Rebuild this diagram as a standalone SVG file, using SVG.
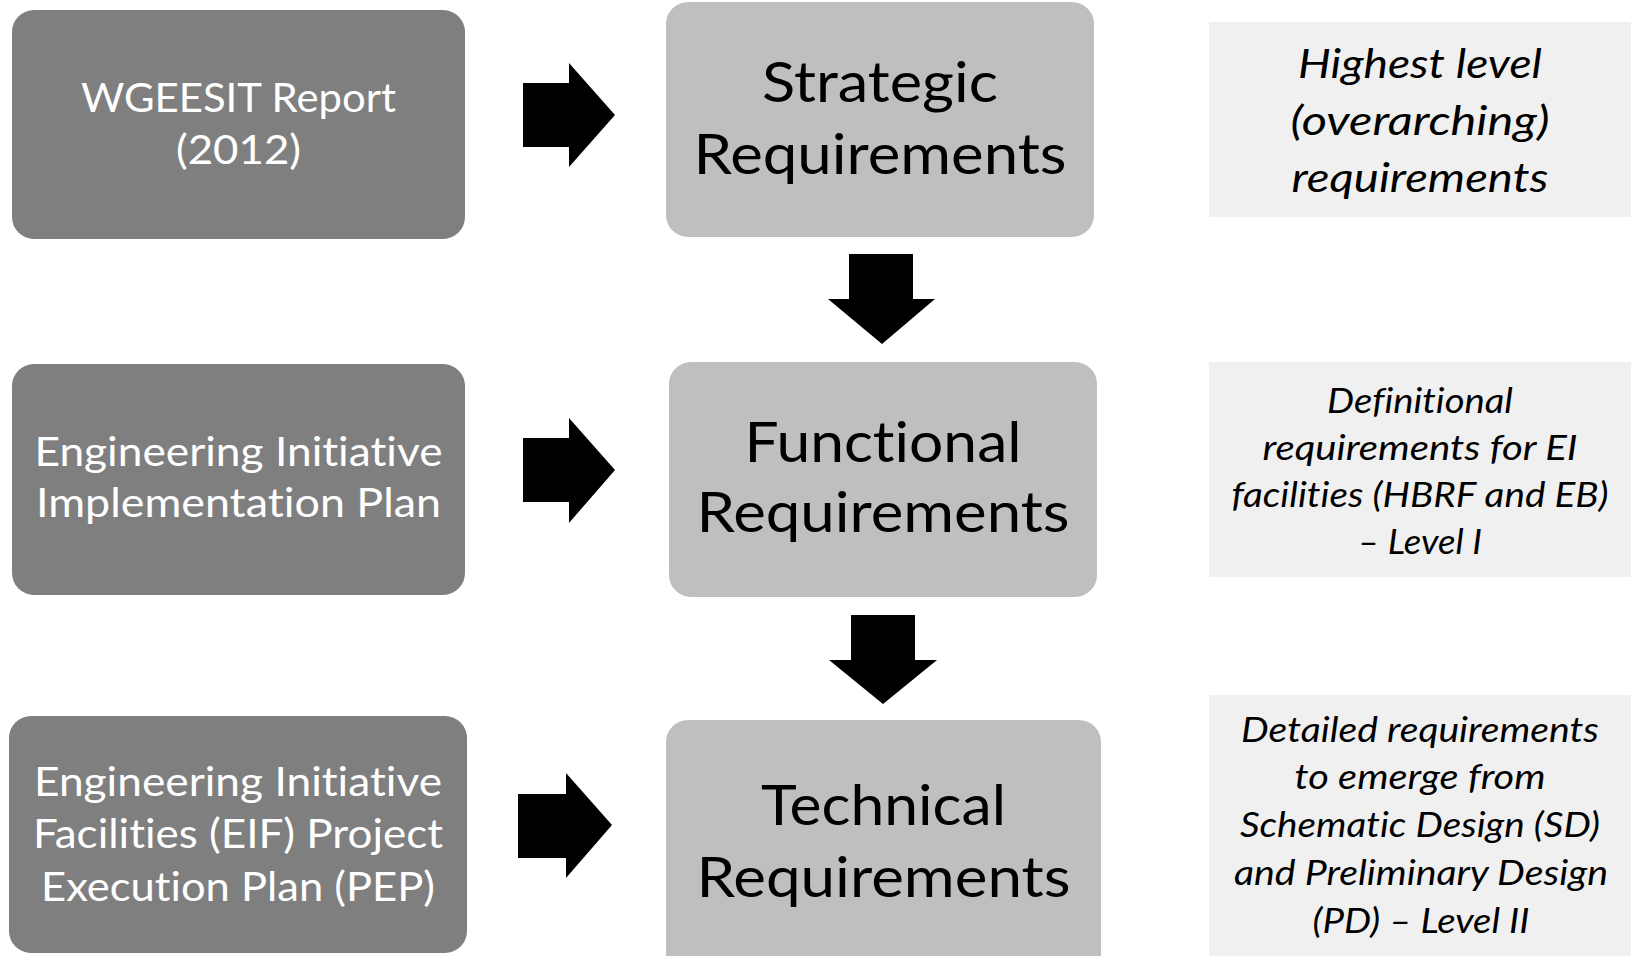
<svg xmlns="http://www.w3.org/2000/svg" width="1631" height="956" viewBox="0 0 1631 956">
<style>
.src{fill:#7f7f7f}
.req{fill:#bfbfbf}
.note{fill:#f0f0f0}
.arrow{fill:#000000}
text{font-family:Lato,"Open Sans","Noto Sans",sans-serif;text-anchor:middle;font-variant-ligatures:none}
.lt{fill:#ffffff;font-size:41px}
.mt{fill:#000000;font-size:57px}
.n1{fill:#000000;font-size:41px;font-style:italic}
.n2{fill:#000000;font-size:35px;font-style:italic}
</style>
<rect width="1631" height="956" fill="#ffffff"/>
<g id="connectors">
<polygon class="arrow" points="523,83 569,83 569,63 615,115 569,167 569,147 523,147"/>
<polygon class="arrow" points="523,438 569,438 569,418 615,470 569,523 569,502 523,502"/>
<polygon class="arrow" points="518,794 566,794 566,773 612,825 566,878 566,858 518,858"/>
<polygon class="arrow" points="849,254 913,254 913,299 935,299 882,344 828,299 849,299"/>
<polygon class="arrow" points="851,615 915,615 915,660 937,660 883,704 829,660 851,660"/>
</g>
<g id="wgeesit">
<rect class="src" x="12" y="10" width="453" height="229" rx="22"/>
<text class="lt" x="238.5" y="112" textLength="315" lengthAdjust="spacingAndGlyphs">WGEESIT Report</text>
<text class="lt" x="238.5" y="164" textLength="125" lengthAdjust="spacingAndGlyphs">(2012)</text>
</g>
<g id="eiip">
<rect class="src" x="12" y="364" width="453" height="231" rx="22"/>
<text class="lt" x="238.5" y="466" textLength="408" lengthAdjust="spacingAndGlyphs">Engineering Initiative</text>
<text class="lt" x="238.5" y="517" textLength="405" lengthAdjust="spacingAndGlyphs">Implementation Plan</text>
</g>
<g id="eifpep">
<rect class="src" x="9" y="716" width="458" height="237" rx="22"/>
<text class="lt" x="238" y="796" textLength="408" lengthAdjust="spacingAndGlyphs">Engineering Initiative</text>
<text class="lt" x="238" y="848" textLength="410" lengthAdjust="spacingAndGlyphs">Facilities (EIF) Project</text>
<text class="lt" x="238" y="901" textLength="394" lengthAdjust="spacingAndGlyphs">Execution Plan (PEP)</text>
</g>
<g id="strategic">
<rect class="req" x="666" y="2" width="428" height="235" rx="22"/>
<text class="mt" x="880" y="102" textLength="236" lengthAdjust="spacingAndGlyphs">Strategic</text>
<text class="mt" x="880" y="174" textLength="373" lengthAdjust="spacingAndGlyphs">Requirements</text>
</g>
<g id="functional">
<rect class="req" x="669" y="362" width="428" height="235" rx="22"/>
<text class="mt" x="883" y="462" textLength="277" lengthAdjust="spacingAndGlyphs">Functional</text>
<text class="mt" x="883" y="532" textLength="373" lengthAdjust="spacingAndGlyphs">Requirements</text>
</g>
<g id="technical">
<rect class="req" x="666" y="720" width="435" height="260" rx="22"/>
<text class="mt" x="883.5" y="825" textLength="245" lengthAdjust="spacingAndGlyphs">Technical</text>
<text class="mt" x="883.5" y="897" textLength="374" lengthAdjust="spacingAndGlyphs">Requirements</text>
</g>
<g id="note-strategic">
<rect class="note" x="1209" y="22" width="422" height="195"/>
<text class="n1" x="1420" y="78" textLength="244" lengthAdjust="spacingAndGlyphs">Highest level</text>
<text class="n1" x="1420" y="135" textLength="259" lengthAdjust="spacingAndGlyphs">(overarching)</text>
<text class="n1" x="1420" y="192" textLength="257" lengthAdjust="spacingAndGlyphs">requirements</text>
</g>
<g id="note-functional">
<rect class="note" x="1209" y="362" width="422" height="215"/>
<text class="n2" x="1420" y="413" textLength="186" lengthAdjust="spacingAndGlyphs">Definitional</text>
<text class="n2" x="1420" y="460" textLength="315" lengthAdjust="spacingAndGlyphs">requirements for EI</text>
<text class="n2" x="1420" y="507" textLength="377" lengthAdjust="spacingAndGlyphs">facilities (HBRF and EB)</text>
<text class="n2" x="1420" y="554" textLength="124" lengthAdjust="spacingAndGlyphs">– Level I</text>
</g>
<g id="note-technical">
<rect class="note" x="1209" y="695" width="422" height="261"/>
<text class="n2" x="1420" y="742" textLength="358" lengthAdjust="spacingAndGlyphs">Detailed requirements</text>
<text class="n2" x="1420" y="789" textLength="251" lengthAdjust="spacingAndGlyphs">to emerge from</text>
<text class="n2" x="1420" y="837" textLength="360" lengthAdjust="spacingAndGlyphs">Schematic Design (SD)</text>
<text class="n2" x="1421" y="885" textLength="374" lengthAdjust="spacingAndGlyphs">and Preliminary Design</text>
<text class="n2" x="1421" y="933" textLength="217" lengthAdjust="spacingAndGlyphs">(PD) – Level II</text>
</g>
</svg>
